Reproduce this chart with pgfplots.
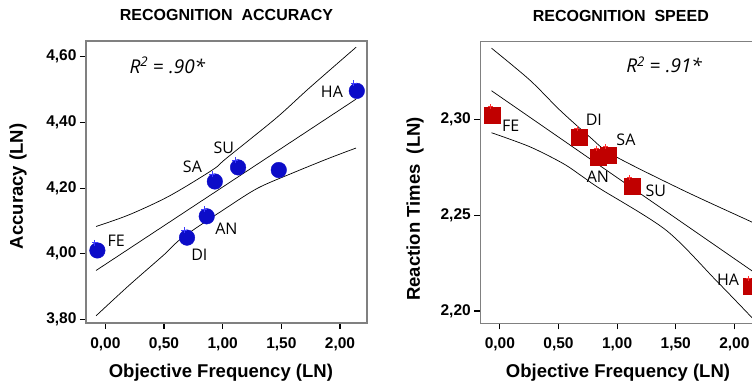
\documentclass[border=0pt]{standalone}
\usepackage{fontspec}
\setmainfont{Liberation Sans}
\newfontfamily\lblfont{Open Sans}
\usepackage{pgfplots}
\pgfplotsset{compat=1.18}
\definecolor{ptblue}{RGB}{12,12,200}
\definecolor{plusblue}{RGB}{60,60,255}
\definecolor{ptred}{RGB}{192,0,0}
\definecolor{plusred}{RGB}{255,50,50}
\definecolor{boxgray}{RGB}{128,128,128}
\tikzset{
  band/.style={black, line width=0.7pt, smooth},
  lbl/.style={font=\fontsize{16}{18}\selectfont\lblfont, anchor=base west, inner sep=0pt},
  rlbl/.style={font=\fontsize{19}{21}\selectfont\lblfont\itshape, anchor=base west, inner sep=0pt},
}
\pgfplotsset{
  common/.style={
    scale only axis, clip=false,
    axis line style={boxgray, line width=1.3pt},
    tick style={black, line width=1.1pt},
    tick align=outside, major tick length=6pt,
    xtick pos=lower, ytick pos=left,
    tick label style={font=\fontsize{15.5}{17}\selectfont\bfseries},
    xticklabel style={yshift=-5pt},
    label style={font=\fontsize{18.5}{20}\selectfont\bfseries},
    title style={font=\fontsize{16}{18}\selectfont\bfseries, at={(0.5,1)}, anchor=base, yshift=14pt},
    xtick={0,0.5,1,1.5,2},
    xticklabels={{0,00},{0,50},{1,00},{1,50},{2,00}},
    xlabel={Objective Frequency (LN)},
  }
}
\begin{document}
\begin{tikzpicture}
\useasboundingbox (0pt,0pt) rectangle (752pt,385pt);
\clip (0pt,0pt) rectangle (752pt,385pt);
% ---------------- Left panel ----------------
\begin{axis}[common,
  at={(86pt,62pt)}, anchor=south west,
  width=281pt, height=282pt,
  xmin=-0.165, xmax=2.23, ymin=3.789, ymax=4.648,
  ytick={3.8,4.0,4.2,4.4,4.6},
  yticklabels={{3,80},{4,00},{4,20},{4,40},{4,60}},
  title={RECOGNITION\ \ ACCURACY},
  ylabel={Accuracy (LN)},
  ylabel style={at={(axis description cs:-0.242,0.484)}, anchor=center},
  xlabel style={at={(axis description cs:0.48,-0.193)}, anchor=base},
]
% confidence band (upper)
\addplot[band] coordinates {(-0.079,4.083) (0.205,4.119) (0.546,4.176) (0.916,4.256) (1.029,4.290) (1.455,4.413) (1.739,4.505) (2.137,4.629)};
% regression line
\addplot[black, line width=0.7pt] coordinates {(-0.079,3.949) (2.137,4.471)};
% confidence band (lower)
\addplot[band] coordinates {(-0.079,3.811) (0.2,3.903) (0.5,3.997) (0.66,4.050) (1.029,4.139) (1.3,4.200) (1.597,4.246) (1.9,4.290) (2.137,4.322)};
% data points
\addplot[only marks, mark=*, mark size=7.8pt, color=ptblue, mark options={draw=ptblue, fill=ptblue}] coordinates {
  (-0.068,4.010) (0.696,4.049) (0.864,4.114) (0.933,4.220) (1.131,4.263) (1.478,4.255) (2.143,4.496)};
\addplot[only marks, mark=+, mark size=3pt, color=plusblue, line width=0.8pt] coordinates {
  (-0.091,4.033) (0.673,4.071) (0.841,4.136) (0.910,4.242) (1.108,4.285) (2.118,4.520)};
\node[lbl] at (axis cs:0.017,4.0222) {FE};
\node[lbl] at (axis cs:0.731,3.9787) {DI};
\node[lbl] at (axis cs:0.935,4.0578) {AN};
\node[lbl] at (axis cs:0.660,4.2459) {SA};
\node[lbl] at (axis cs:0.921,4.3047) {SU};
\node[lbl] at (axis cs:1.836,4.4746) {HA};
\node[rlbl] at (axis cs:0.205,4.550) {R\textsuperscript{2} {\upshape =} .90*};
\end{axis}
% ---------------- Right panel ----------------
\begin{axis}[common,
  at={(480.3pt,61.7pt)}, anchor=south west,
  width=281pt, height=281.6pt,
  xmin=-0.167, xmax=2.23, ymin=2.1936, ymax=2.3405,
  ytick={2.20,2.25,2.30},
  yticklabels={{2,20},{2,25},{2,30}},
  title={RECOGNITION\ \ SPEED},
  ylabel={Reaction Times\ \ (LN)},
  ylabel style={at={(axis description cs:-0.232,0.406)}, anchor=center},
  xlabel style={at={(axis description cs:0.49,-0.193)}, anchor=base},
]
\addplot[band] coordinates {(-0.071,2.3371) (0.255,2.3205) (0.510,2.3049) (0.765,2.2909) (0.963,2.2814) (1.559,2.2631) (2.143,2.2466) (2.23,2.2440)};
\addplot[black, line width=0.7pt] coordinates {(-0.071,2.3149) (2.23,2.2176)};
\addplot[band] coordinates {(-0.071,2.2930) (0.255,2.2857) (0.538,2.2770) (0.708,2.2700) (0.850,2.2640) (1.417,2.2422) (1.842,2.2161) (2.143,2.1970) (2.23,2.1910)};
\addplot[only marks, mark=square*, mark size=8pt, color=ptred, mark options={draw=ptred, fill=ptred}] coordinates {
  (-0.065,2.3020) (0.674,2.2906) (0.836,2.2805) (0.921,2.2812) (1.125,2.2652) (2.14,2.2127)};
\addplot[only marks, mark=+, mark size=2.5pt, color=plusred, line width=0.8pt] coordinates {
  (-0.082,2.3065) (0.657,2.2951) (0.820,2.2850) (0.904,2.2857) (1.108,2.2697) (2.12,2.2170)};
\node[lbl] at (axis cs:0.017,2.2935) {FE};
\node[lbl] at (axis cs:0.731,2.2969) {DI};
\node[lbl] at (axis cs:0.993,2.2862) {SA};
\node[lbl] at (axis cs:0.740,2.2670) {AN};
\node[lbl] at (axis cs:1.241,2.2596) {SU};
\node[lbl] at (axis cs:1.851,2.2134) {HA};
\node[rlbl] at (axis cs:1.077,2.3243) {R\textsuperscript{2} {\upshape =} .91*};
\end{axis}
\end{tikzpicture}
\end{document}
